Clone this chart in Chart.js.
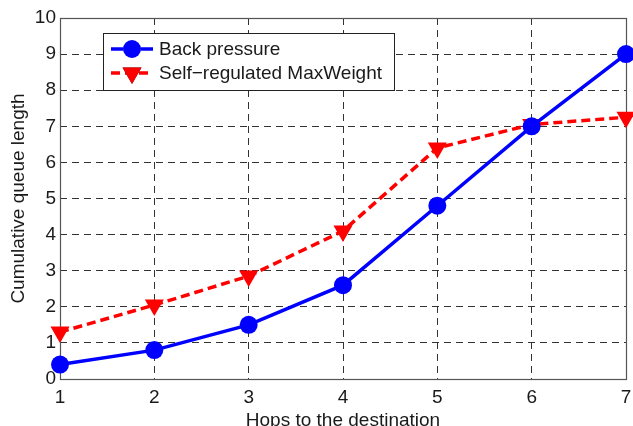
<!DOCTYPE html>
<html>
<head>
<meta charset="utf-8">
<script src="https://cdn.jsdelivr.net/npm/chart.js@4/dist/chart.umd.min.js"></script>
<style>
  html, body { margin: 0; padding: 0; background: #ffffff; }
  #wrap { width: 633px; height: 426px; }
</style>
</head>
<body>
<div id="wrap"><canvas id="c" width="633" height="426"></canvas></div>
<script>
// Hops to the destination (x axis)
const hops = [1, 2, 3, 4, 5, 6, 7];
// Cumulative queue length per scheme
const backPressure = [0.4, 0.8, 1.5, 2.6, 4.8, 7.0, 9.0];
const selfRegulated = [1.3, 2.05, 2.85, 4.1, 6.4, 7.05, 7.25];
// Tick labels
const xTickValues = [1, 2, 3, 4, 5, 6, 7];
const yTickValues = [0, 1, 2, 3, 4, 5, 6, 7, 8, 9, 10];

const seriesNames = ['Back pressure', 'Self\u2212regulated MaxWeight'];
const FONT = 'Liberation Sans, Arial, Helvetica, sans-serif';
const TEXT = '#1a1a1a';

const toPoints = ys => hops.map((x, i) => ({ x: x, y: ys[i] }));

// Box around the axes (MATLAB style)
const frame = {
  id: 'frame',
  beforeDatasetsDraw(chart) {
    const { ctx, chartArea: a } = chart;
    ctx.save();
    ctx.strokeStyle = '#555555';
    ctx.lineWidth = 1.2;
    ctx.strokeRect(Math.round(a.left) + 0.5, Math.round(a.top) + 0.5,
                   Math.round(a.right - a.left), Math.round(a.bottom - a.top));
    ctx.restore();
  }
};

// Legend box drawn inside the plot area
const insideLegend = {
  id: 'insideLegend',
  afterDatasetsDraw(chart) {
    const { ctx } = chart;
    const bx = 103.5, by = 33.5, bw = 291, bh = 57;
    ctx.save();
    ctx.fillStyle = '#ffffff';
    ctx.fillRect(bx, by, bw, bh);
    ctx.strokeStyle = '#222222';
    ctx.lineWidth = 1;
    ctx.strokeRect(bx, by, bw, bh);

    const rows = [49, 73];
    chart.data.datasets.forEach((ds, i) => {
      const y = rows[i];
      ctx.save();
      ctx.strokeStyle = ds.borderColor;
      ctx.lineWidth = ds.borderWidth;
      ctx.setLineDash(ds.borderDash || []);
      ctx.beginPath();
      ctx.moveTo(111, y);
      ctx.lineTo(153, y);
      ctx.stroke();
      ctx.restore();
      Chart.helpers.drawPoint(ctx, {
        pointStyle: ds.pointStyle,
        radius: ds.pointRadius,
        rotation: ds.pointRotation || 0,
        borderWidth: 0
      }, 132, y);
      ctx.fillStyle = ds.pointBackgroundColor;
      ctx.fill();
      ctx.fillStyle = TEXT;
      ctx.font = '19px ' + FONT;
      ctx.textBaseline = 'middle';
      ctx.textAlign = 'left';
      ctx.fillText(ds.label, 159, y + 1);
    });
    ctx.restore();
  }
};

new Chart(document.getElementById('c'), {
  type: 'line',
  data: {
    datasets: [
      {
        label: seriesNames[0],
        data: toPoints(backPressure),
        borderColor: '#0000ff',
        backgroundColor: '#0000ff',
        borderWidth: 3.5,
        pointStyle: 'circle',
        pointRadius: 9,
        pointBackgroundColor: '#0000ff',
        pointBorderWidth: 0,
        tension: 0,
        clip: false
      },
      {
        label: seriesNames[1],
        data: toPoints(selfRegulated),
        borderColor: '#ff0000',
        backgroundColor: '#ff0000',
        borderWidth: 3.5,
        borderDash: [9, 5],
        pointStyle: 'triangle',
        pointRotation: 180,
        pointRadius: 11,
        pointBackgroundColor: '#ff0000',
        pointBorderWidth: 0,
        tension: 0,
        clip: false
      }
    ]
  },
  options: {
    responsive: false,
    animation: false,
    devicePixelRatio: 1,
    layout: { autoPadding: false, padding: { top: 18, right: 7, left: 0, bottom: 0 } },
    plugins: { legend: { display: false }, tooltip: { enabled: false } },
    scales: {
      x: {
        type: 'linear',
        min: 1,
        max: 7,
        afterBuildTicks: s => { s.ticks = xTickValues.map(v => ({ value: v })); },
        afterFit: s => { s.height = 47; s.paddingLeft = 0; s.paddingRight = 0; },
        ticks: { color: TEXT, font: { family: FONT, size: 19 }, padding: 7, maxRotation: 0 },
        grid: { color: '#333333', lineWidth: 1, drawTicks: false },
        border: { display: false, dash: [7, 5] },
        title: {
          display: true,
          text: 'Hops to the destination',
          color: TEXT,
          font: { family: FONT, size: 19, lineHeight: 0.57 },
          padding: { top: 0, bottom: 0 }
        }
      },
      y: {
        type: 'linear',
        min: 0,
        max: 10,
        afterBuildTicks: s => { s.ticks = yTickValues.map(v => ({ value: v })); },
        afterFit: s => { s.width = 60; },
        ticks: { color: TEXT, font: { family: FONT, size: 19 }, padding: 4 },
        grid: { color: '#333333', lineWidth: 1, drawTicks: false },
        border: { display: false, dash: [7, 5] },
        title: {
          display: true,
          text: 'Cumulative queue length',
          color: TEXT,
          font: { family: FONT, size: 19 },
          padding: { top: 7, bottom: 0 }
        }
      }
    }
  },
  plugins: [frame, insideLegend]
});
</script>
</body>
</html>
